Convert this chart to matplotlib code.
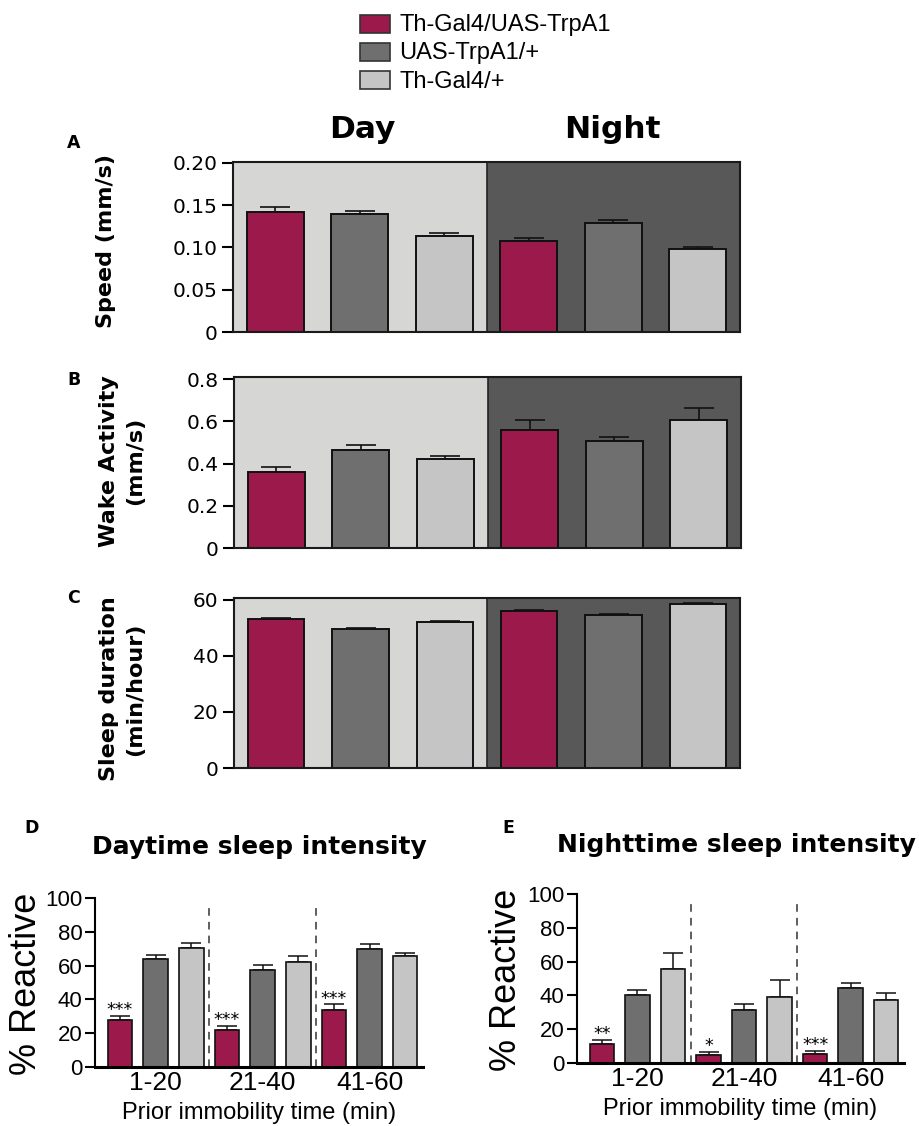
import numpy as np
import matplotlib
matplotlib.use("Agg")
import matplotlib.pyplot as plt
from matplotlib.patches import Rectangle

# genotypes, same order in every panel
genotypes = ["Th-Gal4/UAS-TrpA1", "UAS-TrpA1/+", "Th-Gal4/+"]
colors = ["#9b1a4b", "#6f6f6f", "#c5c5c5"]
day_bg = "#d6d6d4"
night_bg = "#585858"

# A: speed (mm/s)
speed_day = [0.1415, 0.139, 0.113]
speed_day_err = [0.006, 0.004, 0.0035]
speed_night = [0.108, 0.129, 0.098]
speed_night_err = [0.003, 0.003, 0.002]

# B: wake activity (mm/s)
wake_day = [0.362, 0.466, 0.42]
wake_day_err = [0.023, 0.021, 0.014]
wake_night = [0.561, 0.505, 0.608]
wake_night_err = [0.047, 0.019, 0.056]

# C: sleep duration (min/hour)
sleep_day = [53.0, 49.5, 52.0]
sleep_day_err = [0.5, 0.4, 0.4]
sleep_night = [56.0, 54.6, 58.4]
sleep_night_err = [0.4, 0.3, 0.3]

# D/E: % reactive, 3 bins x 3 genotypes
bins = ["1-20", "21-40", "41-60"]
day_react = [28.1, 63.8, 70.5, 21.6, 57.4, 62.2, 33.7, 70.1, 65.5]
day_react_err = [2.0, 2.7, 3.0, 2.6, 3.2, 3.7, 3.3, 2.6, 2.0]
day_stars = ["***", "***", "***"]
night_react = [11.5, 40.0, 55.4, 5.0, 31.3, 38.8, 5.1, 44.4, 37.4]
night_react_err = [2.4, 3.2, 9.6, 1.7, 3.6, 10.1, 2.0, 2.7, 3.8]
night_stars = ["**", "*", "***"]

speed_ticks = [0, 0.05, 0.10, 0.15, 0.20]
speed_labels = ["0", "0.05", "0.10", "0.15", "0.20"]
wake_ticks = [0, 0.2, 0.4, 0.6, 0.8]
wake_labels = ["0", "0.2", "0.4", "0.6", "0.8"]
sleep_ticks = [0, 20, 40, 60]
sleep_labels = ["0", "20", "40", "60"]
react_ticks = [0, 20, 40, 60, 80, 100]
react_labels = ["0", "20", "40", "60", "80", "100"]

W, H = 919, 1126
fig = plt.figure(figsize=(W / 100, H / 100), dpi=100)
ARIAL = "Liberation Sans"


def px_axes(l, t, r, b):
    return fig.add_axes([l / W, 1 - b / H, (r - l) / W, (b - t) / H])


def top_panel(box, day, day_err, night, night_err, top, ticks, labels):
    ax = px_axes(*box)
    vals = day + night
    errs = day_err + night_err
    x = np.arange(len(vals))
    ax.axvspan(-0.5, 2.5, color=day_bg, zorder=0, lw=0)
    ax.axvspan(2.5, 5.5, color=night_bg, zorder=0, lw=0)
    ax.axvline(2.5, color="#222222", lw=1.2, zorder=1)
    ax.bar(x, vals, width=0.67, color=colors * 2, edgecolor="#111111",
           linewidth=1.4, zorder=2,
           yerr=[np.zeros(len(errs)), errs], capsize=11,
           error_kw=dict(elinewidth=1.2, capthick=1.2, ecolor="#111111", zorder=1.5))
    ax.set_xlim(-0.5, 5.5)
    ax.set_ylim(0, top)
    ax.set_xticks([])
    ax.set_yticks(ticks, labels)
    ax.tick_params(axis="y", direction="out", length=8, width=1.5,
                   labelsize=14.5, pad=3)
    for s in ax.spines.values():
        s.set_linewidth(1.5)
        s.set_color("#1a1a1a")
    return ax


top_panel((233, 162, 740, 332), speed_day, speed_day_err, speed_night,
          speed_night_err, 0.201, speed_ticks, speed_labels)
top_panel((234, 377, 741, 548), wake_day, wake_day_err, wake_night,
          wake_night_err, 0.81, wake_ticks, wake_labels)
top_panel((234, 598, 740, 768), sleep_day, sleep_day_err, sleep_night,
          sleep_night_err, 60.6, sleep_ticks, sleep_labels)


def bottom_panel(box, vals, errs, stars):
    ax = px_axes(*box)
    x = np.arange(len(vals))
    ax.bar(x, vals, width=0.69, color=colors * 3, edgecolor="#111111",
           linewidth=1.2, zorder=2,
           yerr=[np.zeros(len(errs)), errs], capsize=7,
           error_kw=dict(elinewidth=1.1, capthick=1.1, ecolor="#111111", zorder=1.5))
    ax.vlines([2.5, 5.5], 0, 97, colors="#333333", linestyles=(0, (5, 4)), lw=1.1)
    for i, s in enumerate(stars):
        k = 3 * i
        ax.annotate(s, (x[k], vals[k] + errs[k]), xytext=(0, 0.5),
                    textcoords="offset points", ha="center", va="baseline",
                    fontsize=12.5)
    ax.set_xlim(-0.7, 8.5)
    ax.set_ylim(0, 100)
    ax.set_yticks(react_ticks, react_labels)
    ax.set_xticks([1, 4, 7], bins)
    for t in ax.get_xticklabels() + ax.get_yticklabels():
        t.set_family(ARIAL)
    ax.tick_params(axis="y", direction="out", length=7, width=1.5,
                   labelsize=16, pad=2)
    ax.tick_params(axis="x", length=0, labelsize=19, pad=3)
    ax.spines["top"].set_visible(False)
    ax.spines["right"].set_visible(False)
    ax.spines["left"].set_linewidth(1.5)
    ax.spines["bottom"].set_linewidth(2.2)
    ax.set_xlabel("Prior immobility time (min)", fontsize=17, family=ARIAL,
                  labelpad=5)
    return ax


bottom_panel((95, 898, 423, 1067), day_react, day_react_err, day_stars)
bottom_panel((577, 894, 904, 1063), night_react, night_react_err, night_stars)

# legend drawn by hand
for i, (name, c) in enumerate(zip(genotypes, colors)):
    y0 = 15 + 28 * i
    fig.patches.append(Rectangle((360 / W, 1 - (y0 + 18) / H), 30 / W, 18 / H,
                                 transform=fig.transFigure, facecolor=c,
                                 edgecolor="#333333", lw=1.2))
    fig.text(399 / W, 1 - (y0 + 16.5) / H, name, fontsize=17,
             family=ARIAL, va="baseline", ha="left")

fig.text(362 / W, 1 - 138 / H, "Day", fontsize=22.5, fontweight="bold",
         ha="center", va="baseline")
fig.text(612 / W, 1 - 138 / H, "Night", fontsize=22.5, fontweight="bold",
         ha="center", va="baseline")

for letter, (lx, ly) in zip("ABCDE", [(74, 148), (74, 385), (74, 603),
                                      (32, 833), (508, 833)]):
    fig.text(lx / W, 1 - ly / H, letter, fontsize=12.5, fontweight="bold",
             ha="center", va="baseline")

fig.text(106 / W, 1 - 241 / H, "Speed (mm/s)", rotation=90, fontsize=16,
         fontweight="bold", ha="center", va="center")
fig.text(122 / W, 1 - 461 / H, "Wake Activity\n(mm/s)", rotation=90,
         fontsize=16, fontweight="bold", ha="center", va="center",
         multialignment="center", linespacing=1.35)
fig.text(122 / W, 1 - 689 / H, "Sleep duration\n(min/hour)", rotation=90,
         fontsize=16, fontweight="bold", ha="center", va="center",
         multialignment="center", linespacing=1.35)

fig.text(27 / W, 1 - 984 / H, "% Reactive", rotation=90, fontsize=26,
         family=ARIAL, ha="center", va="center")
fig.text(507 / W, 1 - 980 / H, "% Reactive", rotation=90, fontsize=26,
         family=ARIAL, ha="center", va="center")

fig.text(259 / W, 1 - 847 / H, "Daytime sleep intensity", fontsize=18,
         fontweight="bold", ha="center", va="center")
fig.text(736 / W, 1 - 845 / H, "Nighttime sleep intensity", fontsize=18,
         fontweight="bold", ha="center", va="center")

fig.savefig("out.png", dpi=100)
